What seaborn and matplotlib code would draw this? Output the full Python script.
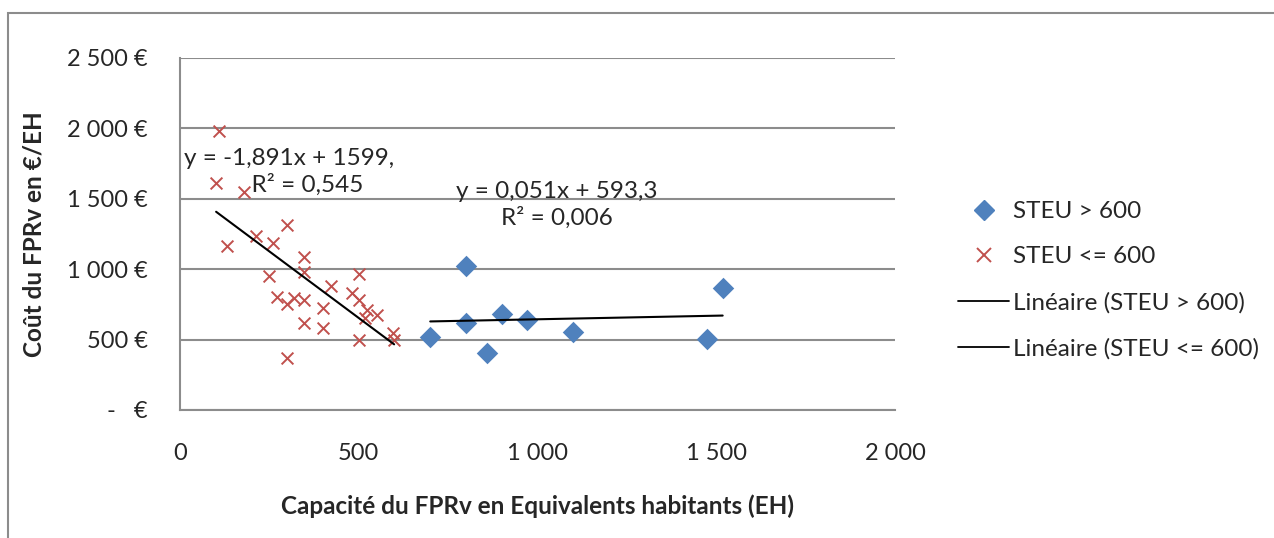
import numpy as np
import pandas as pd
import matplotlib
matplotlib.use("Agg")
import matplotlib.pyplot as plt
from matplotlib.ticker import FuncFormatter
from matplotlib.lines import Line2D
from matplotlib.patches import Rectangle
import seaborn as sns

sns.set_style("white")
plt.rcParams['font.family'] = ['Lato', 'DejaVu Sans']

# STEU > 600 (capacité EH, coût €/EH)
big_x = [700, 800, 800, 858, 900, 970, 1100, 1473, 1518]
big_y = [517, 1025, 620, 403, 682, 639, 556, 504, 864]

# STEU <= 600
small_x = [110, 101, 179, 131, 212, 300, 261, 348, 348, 250, 501, 270, 298, 320,
           348, 400, 421, 480, 501, 522, 550, 517, 348, 400, 501, 597, 599, 300]
small_y = [1984, 1614, 1550, 1167, 1238, 1314, 1188, 1089, 982, 952, 966, 805, 751, 793,
           781, 727, 881, 833, 781, 710, 675, 651, 615, 580, 497, 549, 497, 367]

# courbes de tendance (Excel)
trend_big = (0.051, 593.3)
trend_small = (-1.891, 1599)
eq_big = "y = 0,051x + 593,3\nR² = 0,006"
eq_small = "y = -1,891x + 1599,\n      R² = 0,545"

blue = "#4F81BD"
red = "#C0504D"
grey = "#8C8C8C"
fs = 17.5

df = pd.DataFrame({
    "x": big_x + small_x,
    "y": big_y + small_y,
    "groupe": ["STEU > 600"] * len(big_x) + ["STEU <= 600"] * len(small_x),
})

fig = plt.figure(figsize=(12.74, 5.38), dpi=100)
ax = fig.add_axes([180 / 1274, 1 - 410 / 538, 715 / 1274, 352 / 538])

sns.scatterplot(data=df[df.groupe == "STEU <= 600"], x="x", y="y", ax=ax,
                marker="x", color=red, s=72, linewidth=1.4, legend=False, zorder=3)
sns.scatterplot(data=df[df.groupe == "STEU > 600"], x="x", y="y", ax=ax,
                marker="D", color=blue, s=120, linewidth=0, legend=False, zorder=4)

for xs, (a, b) in [(big_x, trend_big), (small_x, trend_small)]:
    xx = np.array([min(xs), max(xs)])
    ax.plot(xx, a * xx + b, color="black", lw=1.5, zorder=5)

ax.text(305, 1690, eq_small, fontsize=fs, ha="center", va="center", linespacing=1.25)
ax.text(1055, 1456, eq_big, fontsize=fs, ha="center", va="center", linespacing=1.25)

ax.set_xlim(0, 2000)
ax.set_ylim(0, 2500)
ax.set_xticks([0, 500, 1000, 1500, 2000])
ax.set_yticks([0, 500, 1000, 1500, 2000, 2500])

def fmt_eur(v, pos):
    if v == 0:
        return "-   €"
    return f"{int(v):,} €".replace(",", " ")

def fmt_x(v, pos):
    return f"{int(v):,}".replace(",", " ")

ax.yaxis.set_major_formatter(FuncFormatter(fmt_eur))
ax.xaxis.set_major_formatter(FuncFormatter(fmt_x))
ax.grid(axis="y", color=grey, lw=1.5)
ax.set_axisbelow(True)
for side in ["top", "right"]:
    ax.spines[side].set_visible(False)
for side in ["left", "bottom"]:
    ax.spines[side].set_color(grey)
    ax.spines[side].set_linewidth(1.5)
ax.tick_params(axis="both", direction="out", length=6, width=1.5, color=grey,
               labelsize=17)
ax.tick_params(axis="x", pad=18)
ax.tick_params(axis="y", pad=17)

ax.set_xlabel("Capacité du FPRv en Equivalents habitants (EH)", fontsize=fs,
              fontweight="bold", labelpad=22)
ax.set_ylabel("Coût du FPRv en €/EH", fontsize=fs, fontweight="bold", labelpad=16)

handles = [
    Line2D([], [], marker="D", color=blue, ls="none", markersize=10),
    Line2D([], [], marker="x", color=red, ls="none", markersize=10, mew=1.4),
    Line2D([], [], color="black", lw=1.3),
    Line2D([], [], color="black", lw=1.3),
]
labels = ["STEU > 600", "STEU <= 600", "Linéaire (STEU > 600)", "Linéaire (STEU <= 600)"]
fig.legend(handles, labels, loc="upper left", bbox_to_anchor=(946 / 1274, 1 - 189 / 538),
           frameon=False, fontsize=fs, handlelength=2.1, handletextpad=0.15,
           labelspacing=1.0, borderpad=0)

fig.patches.append(Rectangle((8 / 1274, -0.05), 1.2, 1 - 13 / 538 + 0.05,
                             transform=fig.transFigure, fill=False,
                             edgecolor=grey, lw=1.5))

fig.savefig("out.png", dpi=100)
